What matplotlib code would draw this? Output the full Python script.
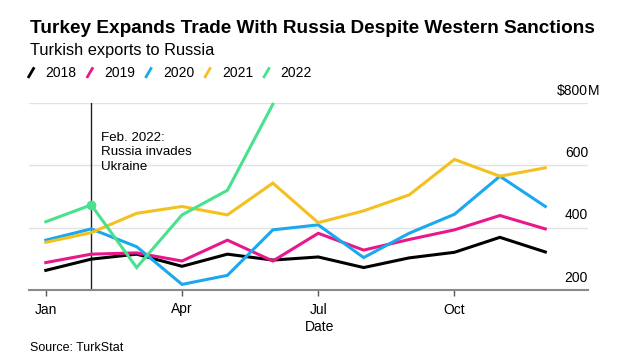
import matplotlib
matplotlib.use("Agg")
import matplotlib.pyplot as plt
from matplotlib.lines import Line2D
from matplotlib.legend_handler import HandlerBase
import matplotlib.transforms as mtransforms

plt.rcParams['font.family'] = ['Liberation Sans', 'DejaVu Sans']

# data: Turkish exports to Russia, $M per month
months = list(range(12))
y2018 = [263, 299, 315, 276, 315, 296, 306, 272, 303, 321, 369, 322]
y2019 = [288, 315, 319, 293, 360, 293, 382, 328, 362, 393, 439, 396]
y2020 = [360, 396, 339, 218, 247, 393, 409, 304, 382, 443, 565, 468]
y2021 = [353, 384, 446, 468, 441, 543, 416, 454, 505, 619, 565, 592]
y2022 = [419, 473, 272, 441, 520, 796]
years = ['2018', '2019', '2020', '2021', '2022']
colors = ['#000000', '#e8188c', '#1ba8ec', '#f4c020', '#48e28e']

tick_pos = [0, 3, 6, 9]
tick_labels = ['Jan', 'Apr', 'Jul', 'Oct']
y_ticks = [200, 400, 600, 800]


class SlashHandler(HandlerBase):
    def create_artists(self, legend, orig_handle, xdescent, ydescent,
                       width, height, fontsize, trans):
        x0 = -xdescent
        y0 = -ydescent
        ln = Line2D([x0, x0 + width], [y0 - 0.1 * height, y0 + 1.0 * height],
                    color=orig_handle.get_color(), lw=2.0,
                    solid_capstyle='butt', transform=trans)
        return [ln]


fig = plt.figure(figsize=(6.31, 3.63), dpi=100)
ax = fig.add_axes([29 / 631, 1 - 290 / 363, (588 - 29) / 631, (290 - 103) / 363])

series = [y2018, y2019, y2020, y2021, y2022]
handles = []
for yr, vals, c in zip(years, series, colors):
    h, = ax.plot(months[:len(vals)], vals, color=c, lw=2.2,
                 solid_joinstyle='miter', clip_on=False)
    handles.append(h)

# marker on 2022 at Feb
ax.plot([1], [y2022[1]], 'o', color=colors[4], ms=6, clip_on=False)

ax.set_xlim(-0.37, 11.94)
ax.set_ylim(200, 800)

# gridlines
for v in y_ticks[1:]:
    ax.axhline(v, color='#e2e2e2', lw=1.0, zorder=0)

for s in ['top', 'left', 'right']:
    ax.spines[s].set_visible(False)
ax.spines['bottom'].set_color('#8a8a8a')
ax.spines['bottom'].set_linewidth(1.5)

ax.set_yticks([])
ax.set_xticks(tick_pos)
ax.set_xticklabels(tick_labels, fontsize=10)
ax.tick_params(axis='x', length=4, width=1, color='#555555', pad=5)

ax.set_xlabel('Date', fontsize=10)
ax.xaxis.set_label_coords((320 - 29) / (588 - 29), -0.16)

# right value labels
trans = mtransforms.blended_transform_factory(ax.transAxes, ax.transData)
for v in y_ticks:
    lab = '$800' if v == 800 else str(v)
    ax.annotate(lab, xy=(1.0, v), xycoords=trans, xytext=(0, 6),
                textcoords='offset points', ha='right', va='baseline',
                fontsize=10, annotation_clip=False)
ax.annotate('M', xy=(1.0, 800), xycoords=trans, xytext=(0, 6),
            textcoords='offset points', ha='left', va='baseline',
            fontsize=10, annotation_clip=False)

# invasion marker
ax.plot([1, 1], [200, 800], color='#222222', lw=1.0, zorder=1)
ax.text(1.21, 708, 'Feb. 2022:\nRussia invades\nUkraine', fontsize=9.6,
        va='top', ha='left', linespacing=1.28)

fig.text(30 / 631, 1 - 33 / 363, 'Turkey Expands Trade With Russia Despite Western Sanctions',
         fontsize=13.7, fontweight='bold', va='baseline')
fig.text(30 / 631, 1 - 55 / 363, 'Turkish exports to Russia', fontsize=11.8, va='baseline')

fig.legend(handles, years, handler_map={Line2D: SlashHandler()},
           loc='center left', bbox_to_anchor=(28 / 631, 1 - 73 / 363),
           ncol=5, frameon=False, fontsize=10, handlelength=0.45,
           handletextpad=0.8, columnspacing=0.75, borderpad=0, borderaxespad=0)

fig.text(30 / 631, 1 - 348 / 363, 'Source: TurkStat', fontsize=9, va='center')

fig.savefig('out.png', dpi=100)
